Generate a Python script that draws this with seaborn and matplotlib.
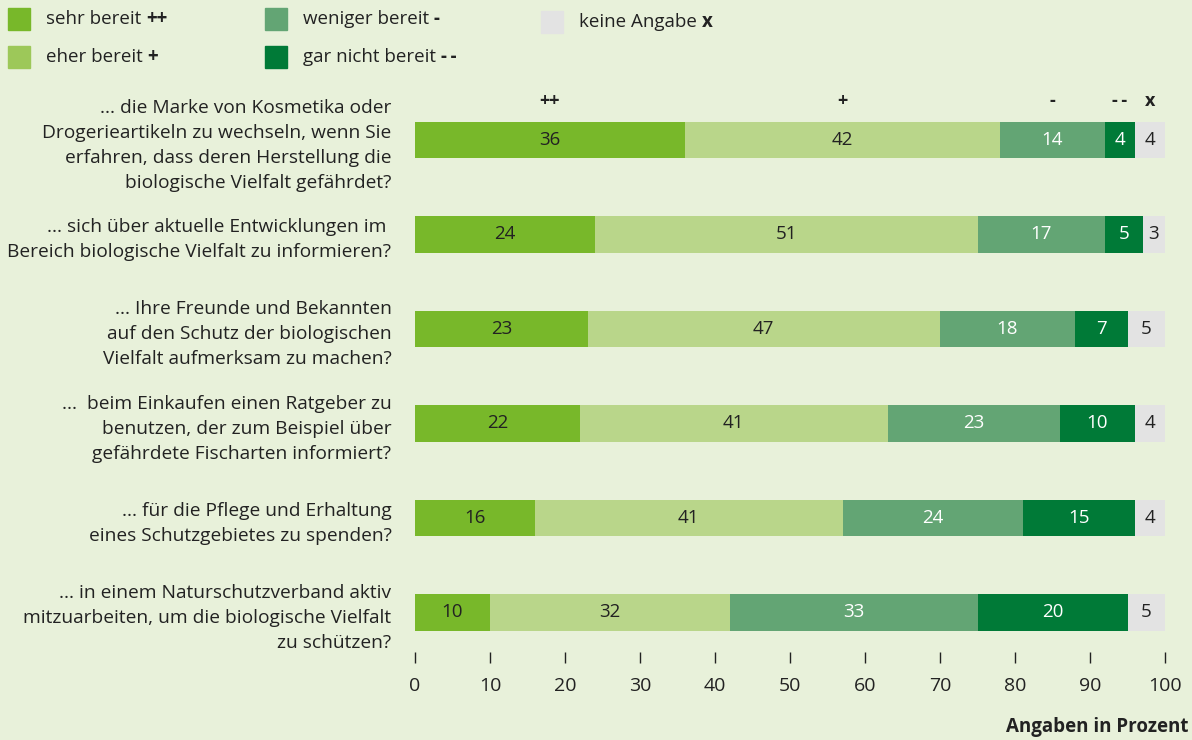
import matplotlib
matplotlib.use("Agg")
import matplotlib.pyplot as plt
from matplotlib.patches import Rectangle
import numpy as np
import pandas as pd
import seaborn as sns

# --- data -------------------------------------------------------------
questions = [
    "... die Marke von Kosmetika oder\nDrogerieartikeln zu wechseln, wenn Sie\nerfahren, dass deren Herstellung die\nbiologische Vielfalt gefährdet?",
    "... sich über aktuelle Entwicklungen im \nBereich biologische Vielfalt zu informieren?",
    "... Ihre Freunde und Bekannten\nauf den Schutz der biologischen\nVielfalt aufmerksam zu machen?",
    "...  beim Einkaufen einen Ratgeber zu\nbenutzen, der zum Beispiel über\ngefährdete Fischarten informiert?",
    "... für die Pflege und Erhaltung\neines Schutzgebietes zu spenden?",
    "... in einem Naturschutzverband aktiv\nmitzuarbeiten, um die biologische Vielfalt\nzu schützen?",
]
categories = ["sehr bereit", "eher bereit", "weniger bereit", "gar nicht bereit", "keine Angabe"]
symbols = ["++", "+", "-", "-\u2009-", "x"]
sehr_bereit = [36, 24, 23, 22, 16, 10]
eher_bereit = [42, 51, 47, 41, 41, 32]
weniger_bereit = [14, 17, 18, 23, 24, 33]
gar_nicht_bereit = [4, 5, 7, 10, 15, 20]
keine_angabe = [4, 3, 5, 4, 4, 5]
x_ticks = [0, 10, 20, 30, 40, 50, 60, 70, 80, 90, 100]

series = [sehr_bereit, eher_bereit, weniger_bereit, gar_nicht_bereit, keine_angabe]

# --- style -------------------------------------------------------------
bg = "#e8f1da"
bar_colors = ["#78b82a", "#b9d68a", "#63a574", "#007a37", "#e3e3e3"]
legend_colors = ["#78b82a", "#9dc859", "#63a574", "#007a37", "#e3e3e3"]
text_colors = ["#222222", "#222222", "white", "white", "#222222"]
ink = "#222222"

sns.set_theme(style="white")
plt.rcParams["font.family"] = ["Open Sans", "DejaVu Sans"]
plt.rcParams["text.color"] = ink

fig = plt.figure(figsize=(11.92, 7.40), dpi=100, facecolor=bg)
W, H = 1192, 740
ax = fig.add_axes([415 / W, 1 - 652 / H, 750 / W, (652 - 88) / H])
ax.set_facecolor(bg)

# --- stacked bars: draw cumulative totals from the widest down ----------
cum = np.cumsum(np.array(series), axis=0)
for k in range(len(series) - 1, -1, -1):
    df = pd.DataFrame({"frage": questions, "wert": cum[k]})
    sns.barplot(data=df, y="frage", x="wert", orient="h", color=bar_colors[k],
                saturation=1, width=0.385, ax=ax, linewidth=0)

# value labels in the middle of each segment
for k in range(len(series)):
    for i in range(len(questions)):
        left = cum[k][i] - series[k][i]
        ax.text(left + series[k][i] / 2, i, str(series[k][i]), ha="center", va="center",
                fontsize=13.5, color=text_colors[k])

# column symbols above the first bar
for k in range(len(series)):
    left = cum[k][0] - series[k][0]
    ax.text(left + series[k][0] / 2, -0.41, symbols[k], ha="center",
            va="center", fontsize=13, fontweight="bold", color=ink)

ax.set_xlim(0, 100)
ax.set_ylim(5.42, -0.55)
ax.set_xticks(x_ticks)
ax.set_xticklabels([str(t) for t in x_ticks], fontsize=14, color=ink)
ax.tick_params(axis="x", direction="out", length=8, width=1, color=ink, pad=10, bottom=True)
ax.set_yticks(range(len(questions)))
ax.set_yticklabels(questions, fontsize=13.8, color=ink, linespacing=1.5)
ax.tick_params(axis="y", length=0, pad=17)
for lbl in ax.get_yticklabels():
    lbl.set_horizontalalignment("right")
    lbl.set_multialignment("right")
ax.set_xlabel("")
ax.set_ylabel("")
for s in ax.spines.values():
    s.set_visible(False)

# --- legend --------------------------------------------------------------
legend_pos = [(8, 19), (8, 57), (265, 19), (265, 57), (541, 22)]
for k, (px, py) in enumerate(legend_pos):
    fig.patches.append(Rectangle((px / W, 1 - (py + 11) / H), 22 / W, 22 / H,
                                 transform=fig.transFigure, color=legend_colors[k]))
    t = fig.text((px + 38) / W, 1 - py / H, categories[k] + " ", ha="left", va="center",
                 fontsize=13.5, color=ink)
    fig.canvas.draw()
    bb = t.get_window_extent()
    fig.text(bb.x1 / W, 1 - py / H, symbols[k], ha="left", va="center",
             fontsize=13.5, fontweight="bold", color=ink)

fig.text(1188 / W, 1 - 727 / H, "Angaben in Prozent", ha="right", va="center",
         fontsize=13.5, fontweight="bold", color=ink)

fig.savefig("out.png", dpi=100, facecolor=bg)
